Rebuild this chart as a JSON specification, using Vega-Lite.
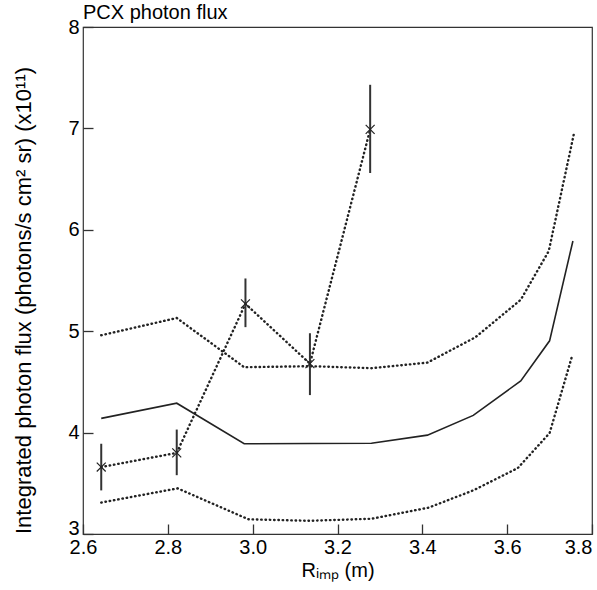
{
  "$schema": "https://vega.github.io/schema/vega-lite/v6.json",
  "width": 509,
  "height": 507,
  "autosize": {"type": "none"},
  "padding": {"left": 83, "top": 27, "right": 5, "bottom": 56},
  "config": {
    "font": "Liberation Sans",
    "view": {"stroke": "#333", "strokeWidth": 1.2},
    "axis": {
      "grid": false,
      "domain": false,
      "labelFontSize": 20,
      "labelColor": "#000",
      "titleFontSize": 20,
      "titleFontWeight": "normal",
      "titleColor": "#000"
    }
  },
  "title": {"text": "PCX photon flux", "anchor": "start", "frame": "group", "fontSize": 20, "fontWeight": "normal", "color": "#000", "offset": -6},
  "datasets": {
    "models": [
      {"series": "upper", "x": 2.643, "y": 4.96},
      {"series": "upper", "x": 2.821, "y": 5.13},
      {"series": "upper", "x": 2.98, "y": 4.645},
      {"series": "upper", "x": 3.135, "y": 4.655},
      {"series": "upper", "x": 3.28, "y": 4.635},
      {"series": "upper", "x": 3.412, "y": 4.69},
      {"series": "upper", "x": 3.525, "y": 4.94},
      {"series": "upper", "x": 3.632, "y": 5.31},
      {"series": "upper", "x": 3.698, "y": 5.79},
      {"series": "upper", "x": 3.757, "y": 6.94},
      {"series": "mid", "x": 2.643, "y": 4.14},
      {"series": "mid", "x": 2.821, "y": 4.29},
      {"series": "mid", "x": 2.98, "y": 3.89},
      {"series": "mid", "x": 3.135, "y": 3.893},
      {"series": "mid", "x": 3.28, "y": 3.895},
      {"series": "mid", "x": 3.412, "y": 3.975},
      {"series": "mid", "x": 3.52, "y": 4.17},
      {"series": "mid", "x": 3.632, "y": 4.51},
      {"series": "mid", "x": 3.7, "y": 4.905},
      {"series": "mid", "x": 3.755, "y": 5.89},
      {"series": "lower", "x": 2.643, "y": 3.31},
      {"series": "lower", "x": 2.823, "y": 3.45},
      {"series": "lower", "x": 2.99, "y": 3.145},
      {"series": "lower", "x": 3.135, "y": 3.13},
      {"series": "lower", "x": 3.28, "y": 3.15},
      {"series": "lower", "x": 3.415, "y": 3.26},
      {"series": "lower", "x": 3.52, "y": 3.43},
      {"series": "lower", "x": 3.625, "y": 3.65},
      {"series": "lower", "x": 3.7, "y": 3.995},
      {"series": "lower", "x": 3.752, "y": 4.74},
      {"series": "measured", "x": 2.643, "y": 3.66},
      {"series": "measured", "x": 2.821, "y": 3.8},
      {"series": "measured", "x": 2.983, "y": 5.27},
      {"series": "measured", "x": 3.135, "y": 4.68},
      {"series": "measured", "x": 3.277, "y": 6.99}
    ],
    "measured": [
      {"x": 2.643, "y": 3.66, "lo": 3.43, "hi": 3.89},
      {"x": 2.821, "y": 3.8, "lo": 3.58, "hi": 4.03},
      {"x": 2.983, "y": 5.27, "lo": 5.04, "hi": 5.52},
      {"x": 3.135, "y": 4.68, "lo": 4.37, "hi": 4.98},
      {"x": 3.277, "y": 6.99, "lo": 6.56, "hi": 7.43}
    ]
  },
  "encoding": {
    "x": {
      "field": "x",
      "type": "quantitative",
      "scale": {"domain": [2.6, 3.8], "nice": false, "zero": false},
      "axis": {
        "values": [2.6, 2.8, 3.0, 3.2, 3.4, 3.6, 3.8],
        "format": ".1f",
        "title": "Rᵢₘₚ (m)",
        "ticks": true,
        "tickSize": 10,
        "tickColor": "#333",
        "tickWidth": 1.3,
        "offset": -10,
        "zindex": 2,
        "labelPadding": 3,
        "titlePadding": 3,
        "labelAlign": {"condition": {"test": "datum.value == 3.8", "value": "right"}, "value": "center"}
      }
    },
    "y": {
      "field": "y",
      "type": "quantitative",
      "scale": {"domain": [3, 8], "nice": false, "zero": false},
      "axis": {
        "values": [3, 4, 5, 6, 7, 8],
        "title": "Integrated photon flux (photons/s cm² sr) (x10¹¹)",
        "ticks": true,
        "tickSize": 10,
        "tickColor": "#333",
        "tickWidth": 1.3,
        "offset": -10,
        "zindex": 2,
        "titleFontSize": 22,
        "labelPadding": 4,
        "titleX": -70,
        "titleY": 273,
        "titleBaseline": "middle",
        "labelBaseline": {"condition": {"test": "datum.value == 3", "value": "alphabetic"}, "value": "middle"}
      }
    }
  },
  "layer": [
    {
      "data": {"name": "models"},
      "transform": [{"filter": "datum.series != 'mid'"}],
      "mark": {"type": "line", "strokeCap": "round", "color": "#222", "strokeWidth": 2.4, "strokeDash": [0.5, 3.8]},
      "encoding": {
        "detail": {"field": "series", "type": "nominal"}
      }
    },
    {
      "data": {"name": "models"},
      "transform": [{"filter": "datum.series == 'mid'"}],
      "mark": {"type": "line", "color": "#222", "strokeWidth": 1.6},
      "encoding": {
        "detail": {"field": "series", "type": "nominal"}
      }
    },
    {
      "data": {"name": "measured"},
      "mark": {"type": "rule", "color": "#333", "strokeWidth": 2},
      "encoding": {
        "y": {"field": "lo", "type": "quantitative"},
        "y2": {"field": "hi"}
      }
    },
    {
      "data": {"name": "measured"},
      "mark": {"type": "point", "shape": "M-1,-1L1,1M-1,1L1,-1", "filled": false, "size": 80, "color": "#222", "strokeWidth": 1.2, "opacity": 1}
    },
    {
      "data": {"values": [{"label": "JG03.33/8c"}]},
      "mark": {"type": "text", "angle": 270, "fontSize": 8, "color": "#444", "baseline": "middle", "align": "center"},
      "encoding": {
        "x": {"datum": 3.81},
        "y": {"datum": 3.3},
        "text": {"field": "label"}
      }
    }
  ]
}
